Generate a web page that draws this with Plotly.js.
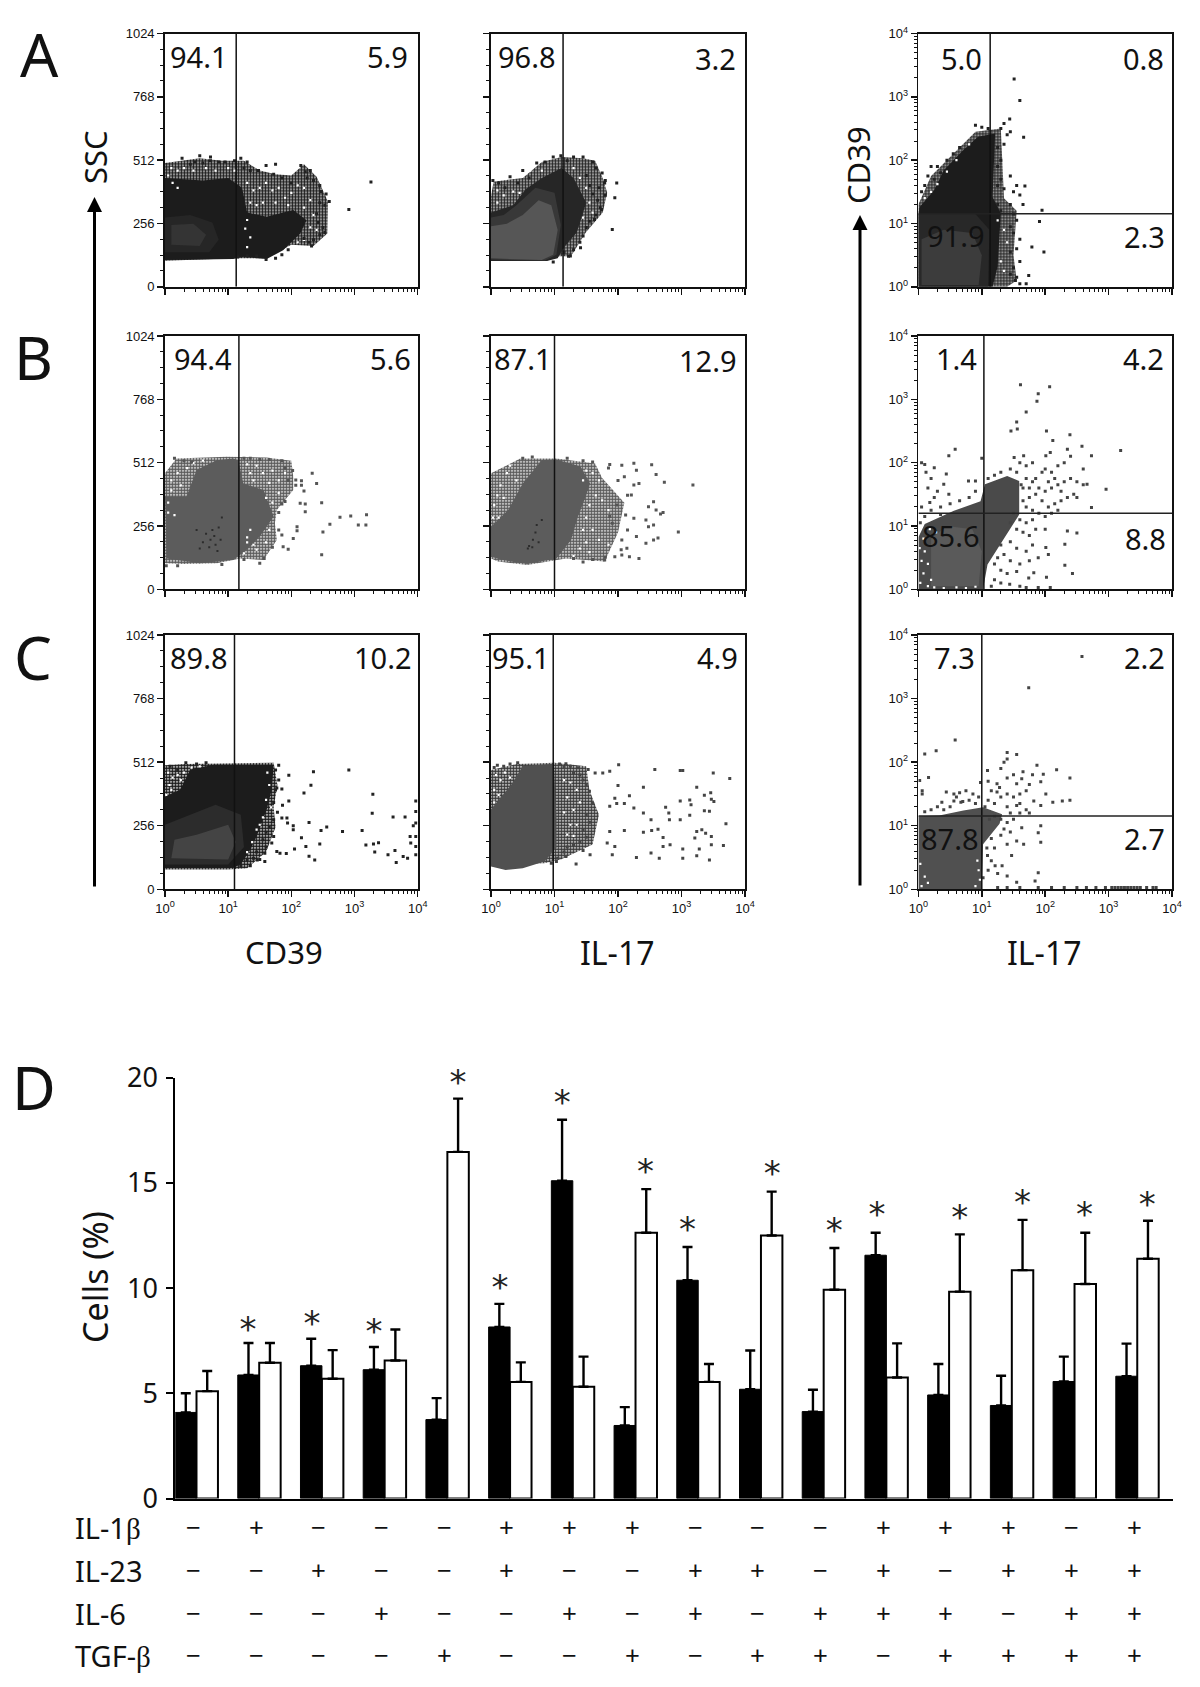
<!DOCTYPE html>
<html><head><meta charset="utf-8">
<script src="https://cdn.plot.ly/plotly-3.0.1.min.js"></script>
<style>html,body{margin:0;padding:0;background:#fff}</style></head>
<body><div id="chart" style="width:1200px;height:1687px"></div>
<script>
// ---- Bar chart data (panel D) ----
const blackVal = [4.09,5.87,6.31,6.12,3.75,8.15,15.1,3.47,10.37,5.19,4.13,11.56,4.92,4.42,5.56,5.81];
const blackErr = [0.91,1.52,1.28,1.08,1.02,1.10,2.9,0.87,1.58,1.84,1.04,1.07,1.47,1.41,1.18,1.55];
const whiteVal = [5.10,6.45,5.69,6.56,16.47,5.54,5.31,12.63,5.54,12.5,9.92,5.75,9.83,10.85,10.19,11.39];
const whiteErr = [0.96,0.94,1.36,1.47,2.53,0.93,1.43,2.07,0.85,2.08,1.98,1.62,2.72,2.39,2.44,1.81];
const starX = [.82,1.84,2.83,4.17,4.84,5.83,7.16,7.83,9.18,10.17,10.85,12.17,13.17,14.16,15.16];
const starY = [7.91,8.19,7.81,19.64,9.87,18.68,15.4,12.64,15.28,12.6,13.37,13.21,13.93,13.37,13.85];
const rowNames = ['IL-1<span style="font-family:Liberation Serif">β</span>','IL-23','IL-6','TGF-<span style="font-family:Liberation Serif">β</span>'];
const IL1b = ['−','+','−','−','−','+','+','+','−','−','−','+','+','+','−','+'];
const IL23 = ['−','−','+','−','−','+','−','−','+','+','−','+','−','+','+','+'];
const IL6  = ['−','−','−','+','−','−','+','−','+','−','+','+','+','−','+','+'];
const TGFb = ['−','−','−','−','+','−','−','+','−','+','+','−','+','+','+','+'];

// ---- Flow-cytometry panels: outlines and visible events, [log10 x, SSC or log10 y] ----
const A1_sparse = [[0,500],[.55,520],[.9,510],[1.25,510],[1.5,470],[1.75,455],[2.0,450],[2.2,495],[2.4,445],[2.58,345],[2.57,215],[2.35,165],[2.0,170],[1.6,115],[1.1,115],[0,105]];
const A1_dense = [[0,108],[1.08,112],[1.24,121],[1.61,112],[1.87,148],[2.14,215],[2.24,269],[2.03,310],[1.61,283],[1.3,300],[1.22,400],[1.0,440],[.6,430],[0,440]];
const A1_mid = [[0,140],[.7,140],[.85,190],[.75,260],[.4,290],[0,280]];
const A1_core = [[.1,170],[.55,165],[.65,210],[.45,255],[.1,250]];
const A1_pts = [[3.26,424],[2.91,312],[.27,520],[.55,530],[.72,525],[.72,510],[.4,495],[.47,505],[.6,500],[.85,505],[.95,505],[1.1,510],[1.2,520],[1.3,505],[1.25,480],[1.35,470],[1.48,470],[1.6,490],[1.75,495],[1.72,455],[1.85,440],[2.0,420],[2.15,490],[2.22,465],[2.3,470],[2.25,440],[2.35,430],[2.45,410],[2.47,385],[2.55,375],[2.6,345],[2.53,330],[2.45,340],[2.4,295],[2.43,260],[2.5,240],[2.53,220],[2.45,210],[2.35,190],[2.28,180],[2.32,165],[2.2,195],[1.95,150],[1.85,130],[1.75,115],[1.6,110],[1.45,125],[1.3,125],[1.15,120]];
const A1_holes = [[1.3,420],[1.4,390],[1.5,400],[1.35,340],[1.45,330],[1.6,420],[1.7,390],[1.55,340],[1.8,400],[1.9,360],[2.0,380],[2.1,410],[2.2,400],[2.3,350],[1.75,340],[1.95,330],[2.2,320],[2.35,290],[2.3,240],[2.4,230],[2.2,190],[2.1,180],[.1,480],[.2,470],[.05,450],[.3,480],[.45,470],[.65,480],[.8,470],[1.0,480],[1.1,470],[.12,420],[.2,400],[1.3,270],[1.27,235],[1.35,200],[1.3,160]];

const A2_sparse = [[0,365],[.04,425],[.5,440],[.8,505],[1.11,525],[1.45,520],[1.64,510],[1.76,440],[1.83,380],[1.76,300],[1.49,218],[1.26,124],[1.03,124],[.88,104],[0,104]];
const A2_dense = [[0,300],[.35,330],[.55,395],[.8,440],[1.11,480],[1.3,440],[1.5,340],[1.35,220],[1.15,160],[1.05,115],[.88,104],[0,104]];
const A2_mid = [[0,110],[.85,106],[1.03,130],[1.1,250],[1.0,380],[.7,400],[.4,330],[.2,290],[0,280]];
const A2_core = [[0,115],[.8,108],[.98,130],[1.05,230],[.95,330],[.75,350],[.5,290],[.25,255],[0,245]];
const A2_pts = [[1.98,420],[1.79,420],[1.95,360],[1.91,232],[1.74,312],[1.63,272],[1.41,158],[1.22,124],[.03,430],[.12,420],[.22,400],[.3,445],[.42,420],[.5,470],[.6,440],[.72,500],[.85,505],[.98,525],[1.1,530],[1.2,510],[1.3,525],[1.45,525],[1.6,505],[1.65,480],[1.75,460],[1.8,430],[1.7,400],[1.8,370],[1.68,350],[1.72,320],[1.65,290],[1.55,265],[1.5,240],[1.45,205],[1.4,180],[1.3,150],[1.25,125],[1.15,140],[.98,100],[1.55,410],[1.6,375],[1.5,450]];
const A2_holes = [[.1,390],[.2,370],[.35,385],[.1,340],[.45,380],[.62,470],[.8,470],[1.5,400],[1.55,340],[1.6,300],[1.45,280],[1.4,440],[1.3,480]];

const A3_sparse = [[0,1.3],[.2,1.75],[.5,2.05],[.9,2.45],[1.3,2.5],[1.35,1.4],[1.55,1.2],[1.5,.5],[1.55,.1],[1.4,0],[0,0]];
const A3_dense = [[0,0],[1.17,0],[1.25,.32],[1.3,1.16],[1.17,1.42],[1.21,2.42],[.94,2.37],[.71,2.16],[.40,1.84],[.25,1.53],[.02,1.26],[0,1.16]];
const A3_mid = [[0,0],[1.1,0],[1.12,.9],[.9,1.15],[0,1.15]];
const A3_core = [[.05,.03],[.95,.03],[1.0,.5],[.85,.85],[.4,.9],[.05,.75]];
const A3_pts = [[1.51,3.28],[1.60,2.94],[1.66,2.36],[1.95,1.21],[1.91,1.03],[1.98,.55],[1.79,.63],[1.68,1.59],[1.74,.18],[1.53,.1],[1.44,2.65],[1.35,2.58],[1.25,1.3],[1.3,1.2],[1.45,1.3],[1.5,1.15],[1.55,1.05],[1.45,.95],[1.5,.85],[1.6,.75],[1.55,.6],[1.45,.55],[1.6,.4],[1.5,.3],[1.45,.2],[1.55,.15],[1.6,.05],[1.7,.05],[1.25,1.6],[1.3,1.7],[1.35,1.55],[1.45,1.75],[1.5,1.5],[1.55,1.6],[1.6,1.45],[1.65,1.3],[1.25,1.9],[1.3,2.0],[1.25,2.2],[1.35,2.25],[1.45,2.45],[1.3,2.5],[1.4,2.4],[.9,2.55],[1.0,2.52],[1.1,2.5],[.55,2.1],[.65,2.2],[.45,2.0],[.3,1.9],[.2,1.9],[.15,1.75],[.1,1.6],[.25,1.7],[.05,1.5],[.35,1.8]];
const A3_holes = [[.1,1.4],[.2,1.5],[.3,1.62],[.45,1.82],[.6,2.0],[.8,2.25],[1.25,1.05],[1.35,.9],[1.4,.7],[1.3,.4],[1.35,.25]];

const B1_sparse = [[0,469],[.18,529],[.98,536],[1.61,533],[2,520],[2.03,455],[2.03,401],[1.77,321],[1.74,267],[1.77,199],[1.56,118],[1.19,125],[.82,105],[.29,102],[0,105]];
const B1_dense = [[0,374],[.34,374],[.5,482],[.82,522],[1.08,529],[1.16,522],[1.24,428],[1.56,401],[1.72,294],[1.5,213],[1.29,159],[1.08,118],[.55,105],[.03,125]];
const B1_pts = [[2.33,469],[2.40,428],[2.48,350],[2.61,263],[2.77,291],[2.94,296],[3.19,301],[3.06,260],[3.18,260],[2.50,232],[2.48,140],[2.09,253],[2.09,237],[2.03,205],[1.95,162],[1.87,172],[2.22,314],[2.22,345],[2.14,348],[2.20,397],[2.16,439],[2.07,442],[2.07,421],[2.16,421],[1.90,355],[.15,530],[.3,520],[.42,515],[1.25,530],[1.35,530],[1.5,525],[1.65,525],[1.85,520],[1.9,490],[2.02,480],[1.95,440],[1.85,345],[1.8,310],[1.8,240],[1.85,220],[1.7,170],[1.5,105],[1.57,125],[1.25,120],[.02,95],[.2,95],[.9,100]];
const B1_holes = [[.1,440],[.2,470],[.35,490],[.1,400],[.05,350],[.25,420],[.15,300],[.05,310],[.45,510],[.6,520],[1.3,505],[1.45,500],[1.55,470],[1.7,480],[1.35,470],[1.4,440],[1.8,440],[1.9,470],[1.65,430],[1.8,390],[1.35,240],[1.3,210],[1.4,180],[1.3,190],[1.45,160],[1.25,145],[1.6,190],[1.65,240],[1.7,350],[1.6,370]];
const B1_specks = [[.72,200],[.78,215],[.7,170],[.75,240],[.8,180],[.6,190],[.85,250],[.9,290],[.65,225],[.55,165],[.83,155],[.88,200],[.5,240]];

const B2_sparse = [[0,469],[.46,529],[1.03,529],[1.64,509],[1.75,450],[2.1,350],[2.0,230],[1.79,112],[1.18,125],[.57,98],[.11,112],[0,125]];
const B2_dense = [[0,253],[.27,321],[.5,428],[.8,523],[1.03,525],[1.41,496],[1.56,428],[1.49,374],[1.37,294],[1.26,199],[1.03,125],[.57,102],[.19,118],[0,132]];
const B2_pts = [[1.87,505],[2.06,501],[2.25,510],[2.53,504],[2.29,481],[2.60,464],[2.73,433],[3.18,422],[2.95,232],[2.67,304],[2.71,310],[2.56,354],[2.60,321],[2.48,334],[2.44,280],[2.56,260],[2.48,253],[2.63,207],[2.56,199],[2.44,186],[2.33,125],[2.18,132],[2.06,139],[1.79,118],[1.95,132],[2.14,166],[2.25,287],[1.87,294],[1.98,341],[2.25,422],[2.10,455],[2.33,428],[2.21,381],[1.91,267],[2.06,199],[2.29,213],[.5,530],[.65,535],[1.2,530],[1.45,520],[1.6,515],[1.85,490],[2.0,440],[2.15,380],[2.12,300],[2.15,240],[2.05,160],[1.8,130],[1.6,120],[1.45,110],[1.3,125]];
const B2_holes = [[.15,420],[.25,470],[.1,380],[.05,340],[.2,370],[.3,500],[.4,440],[.12,290],[.03,290],[1.5,480],[1.6,470],[1.7,440],[1.45,440],[1.65,380],[1.55,340],[1.5,290],[1.75,360],[1.85,320],[1.45,240],[1.5,190],[1.6,240],[1.7,200],[1.85,180],[1.4,165],[1.3,135],[1.55,150]];
const B2_specks = [[.7,230],[.72,260],[.66,200],[.6,175],[.58,165],[.8,280],[.75,190],[.65,170]];

const B3_dense = [[0,0],[1.02,0],[1.09,.39],[1.36,.82],[1.59,1.18],[1.59,1.71],[1.40,1.79],[1.05,1.66],[.98,1.39],[.56,1.24],[.10,1.03],[0,.82]];
const B3_core = [[.2,.05],[.95,.05],[1.0,.6],[.85,.95],[.45,1.0],[.2,.8]];
const B3_pts = [[1.61,3.23],[2.07,3.2],[1.89,3.09],[1.87,2.97],[1.70,2.8],[1.55,2.64],[1.46,2.5],[1.56,2.53],[2.02,2.5],[2.12,2.35],[2.39,2.44],[3.19,2.19],[2.73,2.11],[2.58,2.26],[2.35,2.21],[2.08,2.16],[2.01,2.11],[1.66,2.11],[1.51,2.08],[.58,2.21],[.48,2.11],[1.0,2.07],[.44,1.82],[.25,1.92],[.10,1.97],[2.96,1.58],[2.73,1.29],[2.66,1.66],[2.50,.89],[2.35,.92],[2.31,.71],[2.31,.38],[2.43,.25],[2.05,.55],[2.01,.66],[1.89,.5],[2.02,.19],[1.74,.18],[1.82,.26],[1.44,.08],[1.89,.03],[2.08,.03],[.79,1.71],[.9,1.71],[.4,1.66],[.48,1.5],[.25,1.45],[.18,1.37],
 [1.1,1.75],[1.2,1.8],[1.3,1.85],[1.45,1.9],[1.55,1.85],[1.7,1.75],[1.8,1.7],[1.9,1.6],[2.0,1.55],[2.1,1.6],[2.2,1.65],[2.3,1.7],[2.4,1.75],[2.5,1.7],[2.6,1.65],[2.45,1.5],[2.35,1.45],[2.25,1.4],[2.15,1.35],[2.05,1.3],[1.95,1.4],[1.85,1.5],[1.75,1.45],[1.65,1.4],[1.7,1.3],[1.8,1.25],[1.9,1.2],[2.0,1.15],[2.1,1.2],[2.2,1.25],[1.6,1.1],[1.7,1.05],[1.8,1.1],[1.55,.95],[1.65,.9],[1.75,.85],[1.85,.95],[2.0,.95],[1.45,.75],[1.55,.65],[1.7,.6],[1.8,.7],[1.35,.55],[1.45,.45],[1.6,.4],[1.75,.45],[1.3,.3],[1.4,.25],[1.55,.28],[1.2,.15],[1.3,.1],[1.15,.05],[1.6,.05],[1.7,.03],[2.0,1.9],[2.1,1.85],[2.2,1.95],[2.3,2.0],[2.4,2.1],[1.7,1.95],[1.8,2.0],[1.6,2.0],[.2,1.25],[.35,1.3],[.5,1.35],[.65,1.4],[.8,1.45],[.9,1.55],[.1,1.15],[.05,1.3],[.15,1.6],[.3,1.55],[.05,2.0],[.12,1.85],[.2,1.75],[.35,1.18],[.03,1.05],[1.3,.7],[1.25,.5],[1.2,.4],[1.45,1.05],[1.5,1.2],[1.65,1.6],[1.62,1.65],[1.75,1.6],[1.85,1.75],[1.95,1.85],[2.25,1.55],[2.15,1.75],[2.05,1.7],[2.5,1.45],[2.6,1.9]];
const B3_holes = [[.03,.1],[.08,.25],[.15,.05],[.05,.45],[.1,.6],[.2,.15],[.25,.03],[.4,.02],[.6,.03],[.08,.8],[.9,.04],[.75,.02],[.15,.4],[.02,.65],[.28,.9],[.18,.95]];

const C1_sparse = [[0,500],[.3,505],[1.72,510],[1.78,420],[1.72,330],[1.75,250],[1.6,150],[1.3,85],[1,80],[0,80]];
const C1_dense = [[0,374],[.24,401],[.40,482],[.77,502],[1.72,502],[1.69,401],[1.61,321],[1.45,213],[1.35,159],[1.19,98],[1.03,85],[0,85]];
const C1_mid = [[0,100],[1.0,100],[1.25,170],[1.2,300],[.8,340],[.3,290],[0,260]];
const C1_core = [[.1,125],[1.0,120],[1.12,190],[1.0,260],[.5,220],[.15,200]];
const C1_pts = [[1.96,459],[2.35,473],[2.91,480],[2.31,419],[2.20,388],[1.96,356],[3.29,383],[3.28,306],[3.61,291],[3.80,291],[3.97,356],[3.97,313],[3.97,267],[3.93,256],[2.56,251],[2.47,237],[2.28,269],[2.81,233],[3.12,237],[2.45,182],[2.23,172],[3.18,178],[3.30,182],[3.38,187],[3.53,139],[3.64,156],[3.32,150],[2.37,118],[2.28,133],[2.05,162],[1.92,144],[3.66,108],[3.77,132],[3.84,125],[3.88,213],[3.89,186],[3.97,213],[3.97,172],[3.97,139],[2.16,208],[2.03,240],[2.03,256],[1.94,267],[1.85,287],[1.93,287],[1.85,404],[1.77,408],[1.86,338],[1.72,213],[1.77,152],[1.58,145],[1.69,186],[1.82,145],[1.58,112],[1.46,118],[.08,495],[.2,480],[.33,510],[.5,505],[.65,510],[1.8,500],[1.75,480],[1.8,440],[1.75,400],[1.72,350],[1.78,310],[1.72,280],[1.65,250],[1.6,230],[1.55,200],[1.6,170],[1.45,150],[1.4,125],[1.3,120],[1.2,95],[1.35,95],[1.5,120]];
const C1_holes = [[.05,470],[.12,450],[.2,460],[.07,420],[.25,440],[.1,400],[.3,470],[.42,490],[.55,495],[.02,380],[1.62,470],[1.65,420],[1.6,360],[1.55,290],[1.5,260],[1.45,240],[1.68,330],[1.38,190],[1.3,150]];

const C2_sparse = [[0,480],[.4,505],[1.0,510],[1.5,495],[1.55,400],[1.7,300],[1.6,180],[1.1,120],[.84,105],[0,100]];
const C2_dense = [[0,321],[.34,428],[.5,496],[.99,506],[1.03,294],[1.03,166],[.84,112],[.5,85],[.23,78],[0,92]];
const C2_pts = [[1.18,506],[1.37,489],[1.53,482],[1.64,468],[1.76,468],[1.87,475],[2.01,502],[2.58,482],[2.98,478],[3.02,478],[3.50,468],[3.76,446],[2.0,418],[2.40,411],[3.24,411],[3.46,389],[3.36,379],[3.47,363],[3.51,354],[3.13,360],[2.98,356],[2.18,377],[1.95,367],[2.10,345],[1.98,345],[1.87,334],[2.25,327],[2.40,307],[2.75,330],[2.80,307],[3.36,316],[3.44,314],[3.15,340],[2.81,280],[2.98,280],[3.13,298],[2.52,280],[3.70,264],[2.63,242],[2.53,237],[2.40,230],[2.10,237],[1.87,233],[3.24,233],[3.32,240],[3.38,226],[3.21,207],[3.47,213],[2.71,209],[2.71,172],[2.82,179],[3.02,162],[3.28,162],[3.47,179],[3.66,176],[1.95,172],[1.83,186],[1.91,139],[2.29,128],[2.52,146],[2.65,125],[3.02,125],[3.24,135],[3.44,118],[1.34,102],[1.56,139],[1.45,156],[1.18,132],[1.03,112],[.05,490],[.1,500],[.2,495],[.3,505],[.42,510],[1.08,505],[1.15,490],[1.25,495],[1.3,470],[1.4,460],[1.45,440],[1.5,420],[1.55,395],[1.6,345],[1.5,300],[1.55,270],[1.45,240],[1.5,210],[1.4,190],[1.3,180],[1.2,170],[1.15,150],[1.05,125],[.95,105]];
const C2_holes = [[.08,460],[.15,440],[.22,470],[.05,400],[.12,380],[.3,450],[.05,350],[1.15,440],[1.25,430],[1.35,400],[1.2,370],[1.4,350],[1.3,320],[1.15,310],[1.25,260],[1.35,260],[1.2,220],[1.3,215]];

const C3_dense = [[0,0],[1,0],[1.02,.71],[1.28,1.03],[1.32,1.18],[1.02,1.29],[.71,1.24],[.33,1.16],[0,1.15]];
const C3_pts = [[2.58,3.66],[1.74,3.17],[.58,2.35],[.28,2.18],[.10,2.13],[1.55,2.12],[1.40,2.05],[1.87,1.95],[2.18,1.88],[1.97,1.81],[2.39,1.75],[1.93,1.69],[1.63,1.74],[1.55,1.66],[1.09,1.87],[.98,1.68],[.02,1.71],[.16,1.76],[.06,1.55],[.06,1.5],[2.39,1.4],[2.27,1.39],[2.12,1.37],[2.01,1.5],[1.93,1.32],[1.82,1.39],[1.55,1.32],[1.40,1.5],[1.24,1.66],[1.24,1.53],[1.93,1.0],[1.89,.89],[1.93,.74],[1.63,.97],[1.55,.76],[1.66,.71],[1.40,.71],[1.47,.53],[1.32,.37],[1.21,.37],[1.09,.53],[1.89,.26],[1.84,.13],[1.40,.21],[1.02,.18],[1.55,.11],[1.89,.03],[.44,1.53],[.56,1.5],[.37,1.37],[.67,1.37],[.56,1.39],[.86,1.5],[1.25,.03],[1.4,.03],[1.6,.03],[2.1,.03],[2.3,.03],[2.5,.03],[2.65,.03],[2.8,.03],[2.95,.03],[3.05,.03],[3.1,.03],[3.15,.03],[3.2,.03],[3.25,.03],[3.3,.03],[3.35,.03],[3.4,.03],[3.45,.03],[3.5,.03],[3.6,.03],[3.7,.03],[3.75,.03],
 [1.1,1.4],[1.2,1.35],[1.3,1.45],[1.4,1.3],[1.45,1.2],[1.5,1.45],[1.6,1.5],[1.7,1.55],[1.75,1.65],[1.8,1.8],[1.65,1.85],[1.5,1.8],[1.4,1.75],[1.3,1.9],[1.35,2.0],[1.4,2.15],[1.28,1.6],[1.15,1.55],[1.1,1.7],[1.05,1.3],[1.12,1.1],[1.2,1.15],[1.3,1.1],[1.4,1.05],[1.5,1.1],[1.35,.95],[1.45,.9],[1.3,.85],[1.15,.8],[1.2,.65],[1.08,.65],[1.15,.45],[1.1,.3],[1.25,.25],[.9,1.35],[.8,1.4],[.7,1.38],[.6,1.45],[.5,1.3],[.4,1.25],[.3,1.3],[.2,1.25],[.1,1.22],[.75,1.55],[.65,1.52],[.95,1.45],[1.6,1.35],[1.7,1.25],[1.75,1.2],[1.6,1.2]];
const C3_holes = [[.95,.3],[.97,.15],[.9,.05],[.05,.05],[.1,.2],[.03,.4],[.93,.45],[.15,.1]];

const gateX = [1.127,1.135,1.132,1.17,1.0,1.033,1.10,.98,1.0];
const gateY = [null,null,1.154,null,null,1.2,null,null,1.154];
const logTickVals = [1,10,100,1000,10000];
const logTickText = ['10<sup>0</sup>','10<sup>1</sup>','10<sup>2</sup>','10<sup>3</sup>','10<sup>4</sup>'];
const logMinor = [2,3,4,5,6,7,8,9,20,30,40,50,60,70,80,90,200,300,400,500,600,700,800,900,2000,3000,4000,5000,6000,7000,8000,9000];
const sscTicks = [0,256,512,768,1024];

// ---- Page geometry (px) ----
const W=1200,H=1687;
const colX=[[165,417.7],[491,745],[918.4,1172]];
const rowY=[[33.5,286.8],[336,589.3],[635,889.3]];
const px=v=>v/W, py=v=>1-v/H;
const xy=(arr,logY,close)=>{const a=close?arr.concat([arr[0]]):arr;return {x:a.map(p=>Math.pow(10,p[0])),y:a.map(p=>logY?Math.pow(10,p[1]):p[1])};};

const panels=[
 {s:A1_sparse,d:A1_dense,m:A1_mid,c:A1_core,p:A1_pts,h:A1_holes,cd:'#1c1c1c',cs:'#1c1c1c',cm:'#262626',cc:'#343434',cp:'#222'},
 {s:A2_sparse,d:A2_dense,m:A2_mid,c:A2_core,p:A2_pts,h:A2_holes,cd:'#262626',cs:'#262626',cm:'#383838',cc:'#565656',cp:'#222'},
 {s:A3_sparse,d:A3_dense,m:A3_mid,c:A3_core,p:A3_pts,h:A3_holes,cd:'#1c1c1c',cs:'#222',cm:'#282828',cc:'#3c3c3c',cp:'#222'},
 {s:B1_sparse,d:B1_dense,p:B1_pts,h:B1_holes,k:B1_specks,cd:'#5c5c5c',cs:'#5c5c5c',cp:'#555'},
 {s:B2_sparse,d:B2_dense,p:B2_pts,h:B2_holes,k:B2_specks,cd:'#5c5c5c',cs:'#5c5c5c',cp:'#555'},
 {d:B3_dense,c:B3_core,p:B3_pts,h:B3_holes,cd:'#4a4a4a',cc:'#5a5a5a',cp:'#444'},
 {s:C1_sparse,d:C1_dense,m:C1_mid,c:C1_core,p:C1_pts,h:C1_holes,cd:'#1c1c1c',cs:'#1c1c1c',cm:'#2c2c2c',cc:'#444444',cp:'#222'},
 {s:C2_sparse,d:C2_dense,p:C2_pts,h:C2_holes,cd:'#505050',cs:'#3a3a3a',cp:'#444'},
 {d:C3_dense,p:C3_pts,h:C3_holes,cd:'#505050',cp:'#444'}
];

const traces=[], layout={width:W,height:H,margin:{l:0,r:0,t:0,b:0},paper_bgcolor:'#fff',plot_bgcolor:'#fff',showlegend:false,
  font:{family:'Noto Sans',color:'#000'},barmode:'group',bargap:0.316,bargroupgap:0,annotations:[]};
const fontTick={family:'Liberation Sans',size:13,color:'#111'};

panels.forEach((P,i)=>{
  const n=i+1, xa=n===1?'x':'x'+n, ya=n===1?'y':'y'+n;
  const r=Math.floor(i/3), c=i%3, logY=c===2;
  const fill=(arr,color,pat)=>{const t=Object.assign({type:'scatter',mode:'lines',xaxis:xa,yaxis:ya,fill:'toself',fillcolor:color,line:{width:0},hoverinfo:'skip'},xy(arr,logY,true));
    if(pat) t.fillpattern=pat; traces.push(t);};
  if(P.s) fill(P.s,'rgba(0,0,0,0)',{shape:'.',size:3,solidity:0.78,fgcolor:P.cs,bgcolor:'#fff'});
  fill(P.d,P.cd);
  if(P.m) fill(P.m,P.cm);
  if(P.c) fill(P.c,P.cc);
  traces.push(Object.assign({type:'scatter',mode:'markers',xaxis:xa,yaxis:ya,marker:{symbol:'square',size:2.2,color:'#fff'},hoverinfo:'skip'},xy(P.h,logY)));
  traces.push(Object.assign({type:'scatter',mode:'markers',xaxis:xa,yaxis:ya,marker:{symbol:'square',size:3,color:P.cp},hoverinfo:'skip'},xy(P.p,logY)));
  if(P.k) traces.push(Object.assign({type:'scatter',mode:'markers',xaxis:xa,yaxis:ya,marker:{symbol:'square',size:2,color:'#2c2c2c'},hoverinfo:'skip'},xy(P.k,logY)));
  const ymin=logY?1:0, ymax=logY?10000:1024;
  const gx=Math.pow(10,gateX[i]);
  traces.push({type:'scatter',mode:'lines',xaxis:xa,yaxis:ya,x:[gx,gx],y:[ymin,ymax],line:{color:'#111',width:1.5},hoverinfo:'skip'});
  if(gateY[i]!==null){const gy=Math.pow(10,gateY[i]);
    traces.push({type:'scatter',mode:'lines',xaxis:xa,yaxis:ya,x:[1,10000],y:[gy,gy],line:{color:'#222',width:1.5},hoverinfo:'skip'});}
  const xKey=n===1?'xaxis':'xaxis'+n, yKey=n===1?'yaxis':'yaxis'+n;
  layout[xKey]={domain:[px(colX[c][0]),px(colX[c][1])],anchor:ya,type:'log',range:[0,4],showgrid:false,zeroline:false,
    showline:true,linecolor:'#111',linewidth:1.8,mirror:true,ticks:'outside',ticklen:6,tickwidth:1.5,tickcolor:'#111',
    tickmode:'array',tickvals:logTickVals,ticktext:logTickText,showticklabels:r===2,tickfont:fontTick,
    minor:{ticks:'outside',ticklen:3,tickwidth:1,tickcolor:'#111',tickmode:'array',tickvals:logMinor}};
  layout[yKey]=Object.assign({domain:[py(rowY[r][1]),py(rowY[r][0])],anchor:xa,showgrid:false,zeroline:false,
    showline:true,linecolor:'#111',linewidth:1.8,mirror:true,ticks:'outside',ticklen:6,tickwidth:1.5,tickcolor:'#111',tickfont:fontTick},
    logY?{type:'log',range:[0,4],tickmode:'array',tickvals:logTickVals,ticktext:logTickText,
          minor:{ticks:'outside',ticklen:3,tickwidth:1,tickcolor:'#111',tickmode:'array',tickvals:logMinor}}
        :{type:'linear',range:[0,1024],tickmode:'array',tickvals:sscTicks,ticktext:sscTicks.map(String),showticklabels:c===0,
          minor:{ticks:'outside',ticklen:3,tickwidth:1,tickcolor:'#111',tick0:0,dtick:64}});
});

// ---- Bar panel D ----
const idx=blackVal.map((_,i)=>i);
const bx='x10',by='y10';
traces.push({type:'bar',xaxis:bx,yaxis:by,x:idx,y:blackVal,marker:{color:'#000',line:{color:'#000',width:1}},
  error_y:{type:'data',array:blackErr,arrayminus:idx.map(()=>0),symmetric:false,color:'#000',thickness:2.4,width:5},hoverinfo:'skip'});
traces.push({type:'bar',xaxis:bx,yaxis:by,x:idx,y:whiteVal,marker:{color:'#fff',line:{color:'#000',width:2}},
  error_y:{type:'data',array:whiteErr,arrayminus:idx.map(()=>0),symmetric:false,color:'#000',thickness:2.4,width:5},hoverinfo:'skip'});
traces.push({type:'scatter',mode:'text',xaxis:bx,yaxis:by,x:starX,y:starY,text:starX.map(()=>'*'),textposition:'middle center',cliponaxis:false,
  textfont:{family:'DejaVu Sans',size:34,color:'#222'},hoverinfo:'skip'});
layout.xaxis10={domain:[px(175.3),px(1173)],anchor:'y10',range:[-0.338,15.57],showgrid:false,zeroline:false,showline:true,linecolor:'#000',linewidth:2,showticklabels:false,ticks:''};
layout.yaxis10={domain:[py(1498.5),py(1077.6)],anchor:'x10',range:[0,20],showgrid:false,zeroline:false,showline:true,linecolor:'#000',linewidth:2,
  ticks:'outside',ticklen:7,tickwidth:2,tickcolor:'#000',tickmode:'array',tickvals:[0,5,10,15,20],tickfont:{family:'Noto Sans',size:27,color:'#111'},ticklabelstandoff:3};

// ---- Text ----
const note=(x,y,text,size,extra)=>layout.annotations.push(Object.assign({xref:'paper',yref:'paper',x:px(x),y:py(y),text,showarrow:false,xanchor:'center',yanchor:'middle',
  font:{family:'Noto Sans',size:size,color:'#111'}},extra||{}));
[['A',39,54],['B',33,357],['C',33,657],['D',34,1087]].forEach(l=>note(l[1],l[2],l[0],60));
const pct=[['94.1',199,57],['5.9',388,57],['96.8',527,57],['3.2',715,59],['5.0',961,59],['0.8',1143,59],['91.9',956,236],['2.3',1144,237],
 ['94.4',203,358],['5.6',390,358],['87.1',523,358],['12.9',708,360],['1.4',956,358],['4.2',1143,358],['85.6',951,535],['8.8',1145,538],
 ['89.8',199,658],['10.2',383,658],['95.1',521,658],['4.9',717,658],['7.3',955,658],['2.2',1144,658],['87.8',950,838],['2.7',1144,838]];
pct.forEach(l=>note(l[1],l[2],l[0],29));
note(95,157,'SSC',31,{textangle:-90});
note(858,165,'CD39',31,{textangle:-90});
note(284,952,'CD39',31); note(617,952,'IL-17',32); note(1044,952,'IL-17',32);
note(95,1277,'Cells (%)',34,{textangle:-90});
const rowPx=[1527,1570,1613,1655];
rowNames.forEach((t,i)=>note(73,rowPx[i],t,29,{xanchor:'left'}));
[IL1b,IL23,IL6,TGFb].forEach((row,r)=>row.forEach((s,g)=>{
  layout.annotations.push({xref:'x10',yref:'paper',x:g-0.05,y:py(rowPx[r]),text:s,showarrow:false,xanchor:'center',yanchor:'middle',font:{family:'Noto Sans',size:26,color:'#111'}});
}));
const arrow=(x,tip,tail)=>layout.annotations.push({xref:'paper',yref:'paper',axref:'paper',ayref:'paper',x:px(x),y:py(tip),ax:px(x),ay:py(tail),text:'',showarrow:true,arrowhead:2,arrowsize:1,arrowwidth:3,arrowcolor:'#000'});
arrow(94.5,197,888); arrow(860,215,887);

Plotly.newPlot('chart',traces,layout,{staticPlot:true,displayModeBar:false});
</script></body></html>
